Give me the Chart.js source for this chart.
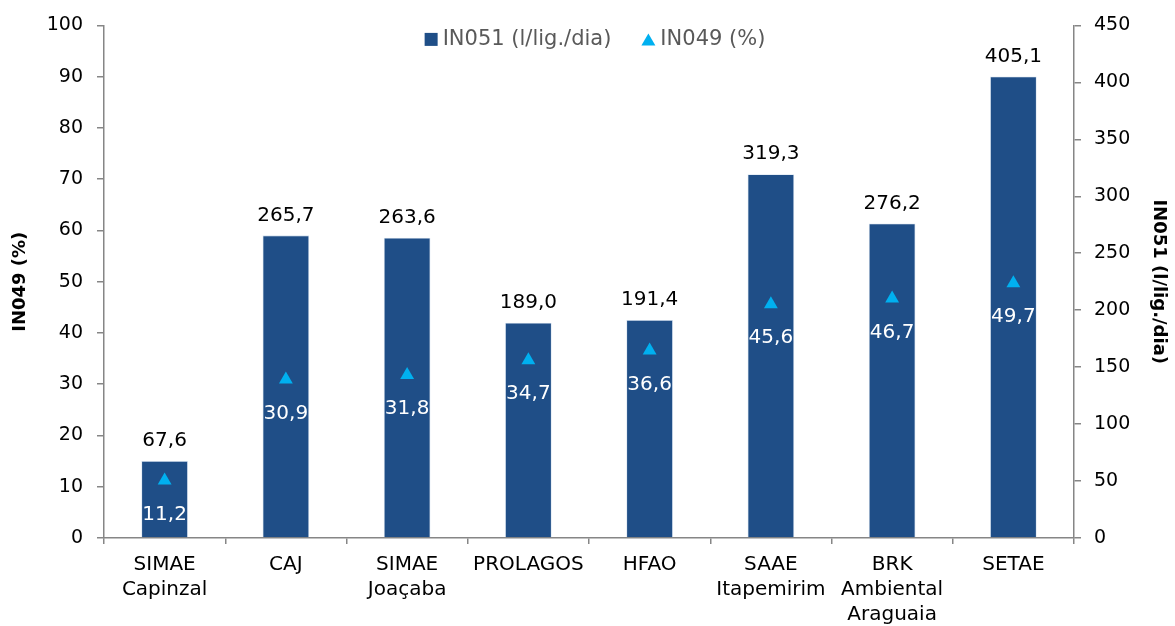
<!DOCTYPE html>
<html><head><meta charset="utf-8">
<script src="https://cdn.jsdelivr.net/npm/chart.js@4/dist/chart.umd.min.js"></script>
<style>html,body{margin:0;padding:0;background:#fff;}#wrap{width:1175px;height:626px;}</style>
</head><body><div id="wrap"><canvas id="c" width="1175" height="626"></canvas></div>
<script>
const categories = [["SIMAE","Capinzal"],"CAJ",["SIMAE","Joaçaba"],"PROLAGOS","HFAO",["SAAE","Itapemirim"],["BRK","Ambiental","Araguaia"],"SETAE"];
const in051 = [67.6, 265.7, 263.6, 189.0, 191.4, 319.3, 276.2, 405.1];
const in049 = [11.2, 30.9, 31.8, 34.7, 36.6, 45.6, 46.7, 49.7];
const leftTicks = [0, 100, 10];
const rightTicks = [0, 450, 50];
const seriesNames = ["IN051 (l/lig./dia)", "IN049 (%)"];

const FONT = "'DejaVu Sans', sans-serif";
const BAR = '#1F4E87';
const TRI = '#00B0F0';
const AXIS = '#868686';
const fmt = v => v.toFixed(1).replace('.', ',');

const labelsPlugin = {
  id: 'valueLabels',
  afterDatasetsDraw(chart) {
    const ctx = chart.ctx;
    ctx.save();
    ctx.font = '20px ' + FONT;
    ctx.textAlign = 'center';
    ctx.textBaseline = 'middle';
    const mb = chart.getDatasetMeta(0);
    mb.data.forEach((el, i) => {
      ctx.fillStyle = '#000';
      ctx.fillText(fmt(in051[i]), el.x, el.y - 20);
    });
    const ml = chart.getDatasetMeta(1);
    ml.data.forEach((el, i) => {
      ctx.fillStyle = '#fff';
      ctx.fillText(fmt(in049[i]), el.x, el.y + 34);
    });
    ctx.restore();
  }
};

const legendPlugin = {
  id: 'customLegend',
  afterDraw(chart) {
    const ctx = chart.ctx;
    const ca = chart.chartArea;
    ctx.save();
    ctx.font = '21px ' + FONT;
    ctx.textBaseline = 'middle';
    const w0 = ctx.measureText(seriesNames[0]).width;
    const w1 = ctx.measureText(seriesNames[1]).width;
    const box = 13, gapBox = 5, gapItems = 30;
    const total = box + gapBox + w0 + gapItems + 14 + gapBox + w1;
    let x = (ca.left + ca.right) / 2 - total / 2 + 6;
    const y = ca.top + 14;
    ctx.fillStyle = BAR;
    ctx.fillRect(x, y - box / 2, box, box);
    x += box + gapBox;
    ctx.fillStyle = '#595959';
    ctx.fillText(seriesNames[0], x, y);
    x += w0 + gapItems;
    ctx.fillStyle = TRI;
    ctx.beginPath();
    ctx.moveTo(x, y + 6);
    ctx.lineTo(x + 14, y + 6);
    ctx.lineTo(x + 7, y - 6);
    ctx.closePath();
    ctx.fill();
    x += 14 + gapBox;
    ctx.fillStyle = '#595959';
    ctx.fillText(seriesNames[1], x, y);
    ctx.restore();
  }
};

new Chart(document.getElementById('c'), {
  data: {
    labels: categories,
    datasets: [
      { type: 'bar', label: seriesNames[0], data: in051, yAxisID: 'yR', backgroundColor: BAR,
        borderColor: '#d6e2f0', borderWidth: 0.8, categoryPercentage: 1.0, barPercentage: 0.385, order: 2 },
      { type: 'line', label: seriesNames[1], data: in049, yAxisID: 'y', showLine: false,
        pointStyle: 'triangle', pointRadius: 8, pointHoverRadius: 8, pointBackgroundColor: TRI,
        pointBorderColor: TRI, pointBorderWidth: 0, backgroundColor: TRI, borderColor: TRI, order: 1 }
    ]
  },
  options: {
    responsive: false,
    animation: false,
    devicePixelRatio: 1,
    layout: { padding: { top: 25, left: 0, right: 0, bottom: 0 } },
    plugins: { legend: { display: false }, tooltip: { enabled: false } },
    scales: {
      x: {
        type: 'category', offset: true,
        grid: { offset: true, drawOnChartArea: false, color: AXIS, tickLength: 6, lineWidth: 1.5 },
        border: { color: AXIS, width: 1.5 },
        ticks: { color: '#000', font: { family: FONT, size: 20, lineHeight: 1.25 }, maxRotation: 0, autoSkip: false, padding: 8 },
        afterFit(s) { s.height = 88; }
      },
      y: {
        position: 'left', min: leftTicks[0], max: leftTicks[1],
        ticks: { stepSize: leftTicks[2], color: '#000', font: { family: FONT, size: 19 }, padding: 14 },
        grid: { drawOnChartArea: false, color: AXIS, tickLength: 7, lineWidth: 1.5 },
        border: { color: AXIS, width: 1.5 },
        title: { display: true, text: 'IN049 (%)', color: '#000', font: { family: FONT, size: 18, weight: 'bold' }, padding: { top: 10, bottom: 0 } },
        afterFit(s) { s.width = 104; }
      },
      yR: {
        position: 'right', min: rightTicks[0], max: rightTicks[1],
        ticks: { stepSize: rightTicks[2], color: '#000', font: { family: FONT, size: 19 }, padding: 13 },
        grid: { drawOnChartArea: false, color: AXIS, tickLength: 7, lineWidth: 1.5 },
        border: { color: AXIS, width: 1.5 },
        title: { display: true, text: 'IN051 (l/lig./dia)', color: '#000', font: { family: FONT, size: 18, weight: 'bold' }, padding: { top: 6, bottom: 0 } },
        afterFit(s) { s.width = 101; }
      }
    }
  },
  plugins: [labelsPlugin, legendPlugin]
});
</script></body></html>
